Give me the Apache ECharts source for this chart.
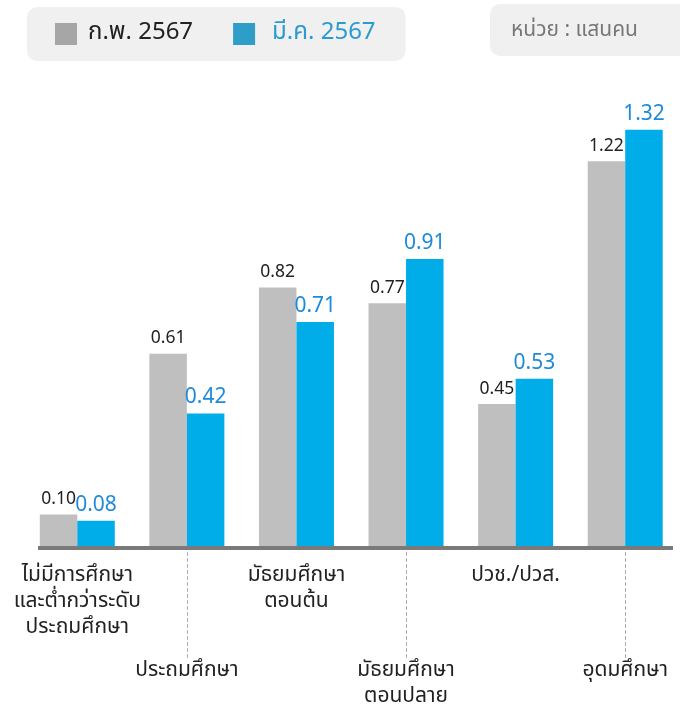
<!DOCTYPE html>
<html><head><meta charset="utf-8">
<script src="https://cdn.jsdelivr.net/npm/echarts@6/dist/echarts.min.js"></script>
<style>html,body{margin:0;padding:0;background:#fff}#c{width:680px;height:711px}</style>
</head><body><div id="c"></div>
<script>
const categories = ['ไม่มีการศึกษา\nและต่ำกว่าระดับ\nประถมศึกษา','ประถมศึกษา','มัธยมศึกษา\nตอนต้น','มัธยมศึกษา\nตอนปลาย','ปวช./ปวส.','อุดมศึกษา'];
const seriesNames = ['ก.พ. 2567','มี.ค. 2567'];
const febValues = [0.10, 0.61, 0.82, 0.77, 0.45, 1.22];
const marValues = [0.08, 0.42, 0.71, 0.91, 0.53, 1.32];
const unitText = 'หน่วย : แสนคน';

const FONT = '"Noto Sans Thai","Noto Sans","DejaVu Sans",sans-serif';
const chart = echarts.init(document.getElementById('c'));
chart.setOption({
  animation:false,
  textStyle:{fontFamily:FONT},
  legend:{
    left:27, top:7, padding:[15,30,15,28], itemWidth:22, itemHeight:22, itemGap:40,
    backgroundColor:'#f0f0f0', borderRadius:10,
    icon:'rect',
    data:[
      {name:seriesNames[0], itemStyle:{color:'#a6a6a6'}, textStyle:{color:'#222', fontSize:24, padding:[0,0,0,6], fontFamily:FONT}},
      {name:seriesNames[1], itemStyle:{color:'#2e9ec9'}, textStyle:{color:'#2a9bd0', fontSize:24, padding:[0,0,0,12], fontFamily:FONT}}
    ]
  },
  graphic:[
    {type:'rect', left:490, top:4, shape:{width:220, height:52, r:10}, style:{fill:'#f0f0f0'}},
    {type:'text', left:511, top:19, style:{text:unitText, fill:'#777', font:'21px '+FONT, lineHeight:26}},
    {type:'rect', left:38, top:546, shape:{width:635, height:4}, style:{fill:'#7a7a7a'}, z:10}
  ],
  grid:{left:22.5, width:660, top:73, height:473},
  xAxis:{
    type:'category', data:categories,
    axisLine:{show:false},
    axisTick:{show:true, alignWithLabel:true, length:112, interval:function(i){return i%2===1;}, lineStyle:{type:'dashed', color:'#b0b0b0', width:1}},
    axisLabel:{
      interval:0, margin:18, color:'#222', fontSize:21, lineHeight:26, fontFamily:FONT,
      formatter:function(v, i){
        const lines = v.split('\n').map(function(l){return '{t|'+l+'}';});
        if(i%2===1) return '{gap|}\n' + lines.join('\n');
        return lines.join('\n');
      },
      rich:{t:{fontSize:21, lineHeight:26, color:'#222', fontFamily:FONT}, gap:{lineHeight:95, height:95}}
    }
  },
  yAxis:{type:'value', min:0, max:1.5, show:false, splitLine:{show:false}},
  series:[
    {name:seriesNames[0], type:'bar', data:febValues, barWidth:37.5, barGap:'0%',
     itemStyle:{color:'#bfbfbf'},
     label:{show:true, position:'top', distance:5, color:'#222', fontSize:17.5, fontFamily:FONT, formatter:function(p){return p.value.toFixed(2);}}},
    {name:seriesNames[1], type:'bar', data:marValues, barWidth:37.5, barGap:'0%',
     itemStyle:{color:'#00ade8'},
     label:{show:true, position:'top', distance:4, color:'#1f8bd8', fontSize:21, fontFamily:FONT, formatter:function(p){return p.value.toFixed(2);}}}
  ]
});
</script></body></html>
